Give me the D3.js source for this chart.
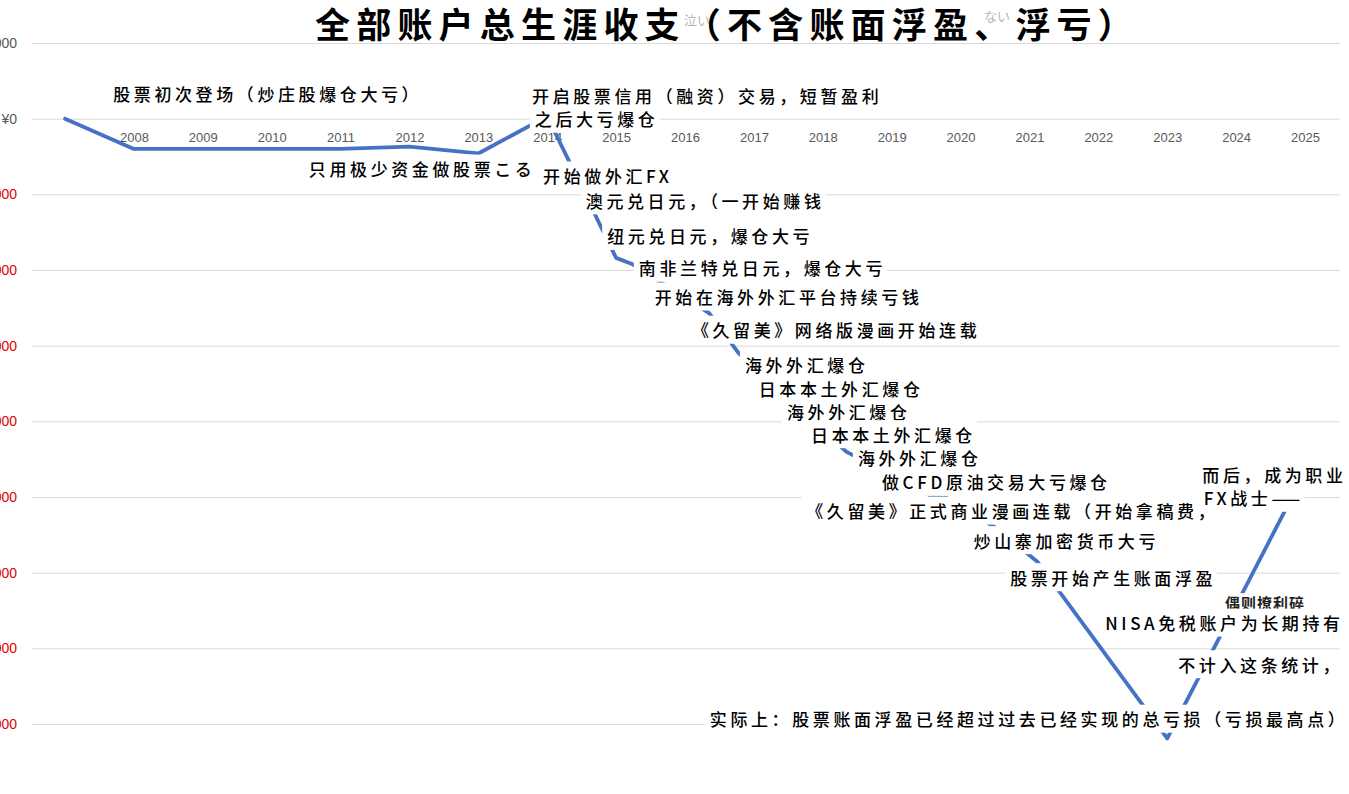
<!DOCTYPE html>
<html>
<head>
<meta charset="utf-8">
<script src="https://cdn.jsdelivr.net/npm/d3@7"></script>
<style>
  html, body { margin: 0; padding: 0; background: #ffffff; }
  svg { display: block; }
</style>
</head>
<body>
<svg id="chart" width="1349" height="794"></svg>
<script>
// ---------------- data ----------------
const pointYears = [2007, 2008, 2009, 2010, 2011, 2012, 2013, 2014, 2015, 2015.23, 2016.35, 2016.77, 2018.34, 2019.56, 2019.8, 2020.5, 2021.12, 2023, 2024.71];
const balance    = [0, -400000, -400000, -400000, -400000, -370000, -460000, 30000, -1840000, -1920000, -2570000, -3090000, -4400000, -4980000, -5010000, -5400000, -5860000, -8190000, -5180000];
const yearLabels = [2008, 2009, 2010, 2011, 2012, 2013, 2014, 2015, 2016, 2017, 2018, 2019, 2020, 2021, 2022, 2023, 2024, 2025];
const yTickValues = [1000000, 0, -1000000, -2000000, -3000000, -4000000, -5000000, -6000000, -7000000, -8000000];
const titleText = "全部账户总生涯收支（不含账面浮盈、浮亏）";
const noteTexts = [
  "股票初次登场（炒庄股爆仓大亏）",
  "开启股票信用（融资）交易，短暂盈利",
  "之后大亏爆仓",
  "只用极少资金做股票こる",
  "开始做外汇FX",
  "澳元兑日元，（一开始赚钱",
  "纽元兑日元，爆仓大亏",
  "南非兰特兑日元，爆仓大亏",
  "开始在海外外汇平台持续亏钱",
  "《久留美》网络版漫画开始连载",
  "海外外汇爆仓",
  "日本本土外汇爆仓",
  "海外外汇爆仓",
  "日本本土外汇爆仓",
  "海外外汇爆仓",
  "做CFD原油交易大亏爆仓",
  "《久留美》正式商业漫画连载（开始拿稿费，",
  "炒山寨加密货币大亏",
  "股票开始产生账面浮盈",
  "而后，成为职业",
  "FX战士——",
  "偶则撩利碎",
  "NISA免税账户为长期持有",
  "不计入这条统计，",
  "实际上：股票账面浮盈已经超过过去已经实现的总亏损（亏损最高点）"
];
// anchor of each note (left edge year, vertical centre value)
const noteYears  = [2007.70, 2013.78, 2013.82, 2010.54, 2013.94, 2014.56, 2014.87, 2015.33, 2015.56, 2016.10, 2016.87, 2017.07, 2017.48, 2017.83, 2018.51, 2018.86, 2017.76, 2020.19, 2020.72, 2023.51, 2023.53, 2023.84, 2022.10, 2023.16, 2016.36];
const noteValues = [330000, 310000, 0, -660000, -750000, -1080000, -1550000, -1970000, -2350000, -2790000, -3250000, -3570000, -3870000, -4170000, -4480000, -4800000, -5180000, -5570000, -6060000, -4700000, -5010000, -6390000, -6660000, -7210000, -7930000];

// ---------------- chart ----------------
const svg = d3.select("#chart");
const W = 1349, H = 794;
svg.append("rect").attr("width", W).attr("height", H).attr("fill", "#ffffff");

const x = d3.scaleLinear().domain([2007, 2025]).range([65, 1305]);
const y = d3.scaleLinear().domain([1000000, -8000000]).range([43, 724]);

const fmt = d3.format(",");
const yenFmt = v => (v < 0 ? "-¥" + fmt(-v) : "¥" + fmt(v));

// gridlines + y labels
const yAxis = d3.axisLeft(y).tickValues(yTickValues).tickSize(-(1340 - 32)).tickFormat(yenFmt).tickPadding(15);
const gy = svg.append("g").attr("transform", "translate(32,0)").call(yAxis);
gy.select(".domain").remove();
gy.selectAll(".tick line").attr("stroke", "#d9d9d9").attr("stroke-width", 1);
gy.selectAll(".tick text")
  .attr("font-family", "'Liberation Sans', Arial, sans-serif")
  .attr("font-size", 14)
  .attr("fill", d => d < 0 ? "#e00000" : "#595959");

// x labels (axis crosses at zero)
const xAxis = d3.axisBottom(x).tickValues(yearLabels).tickFormat(d3.format("d")).tickSize(0).tickPadding(14);
const gx = svg.append("g").attr("transform", `translate(0,${y(0)})`).call(xAxis);
gx.select(".domain").remove();
gx.selectAll(".tick text")
  .attr("font-family", "'Liberation Sans', Arial, sans-serif")
  .attr("font-size", 13)
  .attr("fill", "#595959");

// line
const lineData = pointYears.map((yr, i) => ({ yr, v: balance[i] }));
const line = d3.line().x(d => x(d.yr)).y(d => y(d.v));
svg.append("path")
  .datum(lineData)
  .attr("d", line)
  .attr("fill", "none")
  .attr("stroke", "#4472c4")
  .attr("stroke-width", 3.8)
  .attr("stroke-linejoin", "round")
  .attr("stroke-linecap", "round");

// annotations with white text boxes
const notesG = svg.append("g");
noteTexts.forEach((t, i) => {
  const g = notesG.append("g");
  const small = (t === "偶则撩利碎");
  const txt = g.append("text")
    .attr("x", x(noteYears[i]))
    .attr("y", y(noteValues[i]))
    .attr("dominant-baseline", "central")
    .attr("font-family", "'Noto Sans CJK SC', 'Noto Sans CJK JP', sans-serif")
    .attr("font-size", small ? 15 : 17)
    .attr("font-weight", small ? 700 : 500)
    .attr("letter-spacing", small ? 1 : 3.6)
    .attr("fill", small ? "#222" : "#000")
    .text(t);
  const bb = txt.node().getBBox();
  g.insert("rect", "text")
    .attr("x", bb.x - 5)
    .attr("y", y(noteValues[i]) - (small ? 9 : 14))
    .attr("width", bb.width + 6)
    .attr("height", small ? 18 : 28)
    .attr("fill", "#ffffff");
});

// title
const tg = svg.append("g");
// faint remnants showing through the title box
tg.append("text").attr("x", 684).attr("y", 19).attr("dominant-baseline", "central")
  .attr("font-family", "'Noto Sans CJK JP', sans-serif").attr("font-size", 13).attr("fill", "#b8b8b8").text("泣い");
tg.append("text").attr("x", 984).attr("y", 15).attr("dominant-baseline", "central")
  .attr("font-family", "'Noto Sans CJK JP', sans-serif").attr("font-size", 13).attr("fill", "#b8b8b8").text("ない");
const title = tg.append("text")
  .attr("x", 315)
  .attr("y", 22)
  .attr("dominant-baseline", "central")
  .attr("font-family", "'Noto Sans CJK SC', sans-serif")
  .attr("font-size", 35)
  .attr("font-weight", 700)
  .attr("letter-spacing", 6.2)
  .attr("fill", "#000")
  .text(titleText);
</script>
</body>
</html>
